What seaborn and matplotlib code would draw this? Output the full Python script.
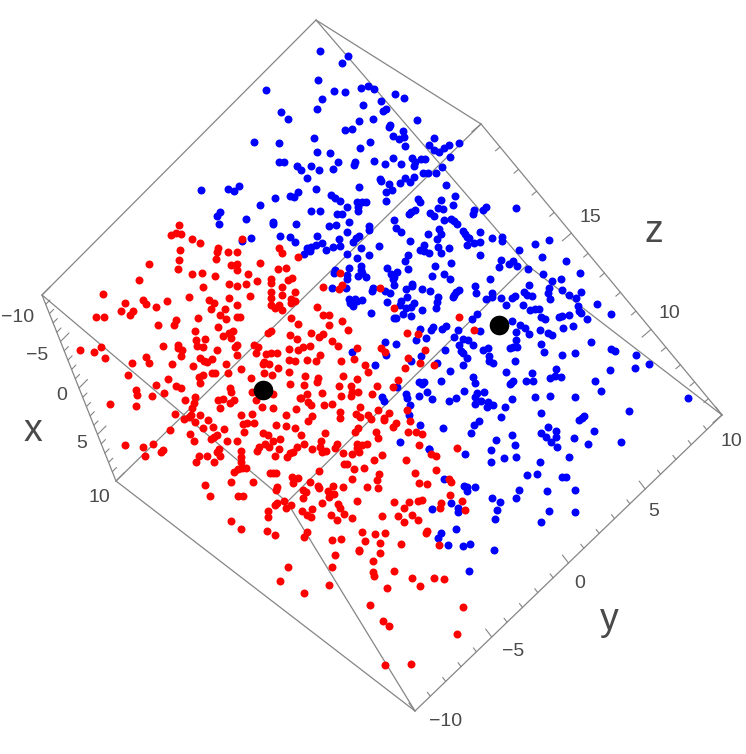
import matplotlib
matplotlib.use("Agg")
import matplotlib.pyplot as plt
import numpy as np
import pandas as pd
import seaborn as sns

# Point readings grouped by the picture region they were read from, at 3x scale.
blue_top = [(390,63),(475,77),(457,99),(384,149),(228,179),(433,184),(464,187),(514,175),(534,168),(553,177),(615,193),(643,204),(395,207),(382,236),(518,224),(572,213),(589,237),(578,244),(272,246),(295,266),(508,274),(550,266),(681,270),(600,285),(598,292),(466,299),(487,298),(639,302),(608,317),(626,326),(642,320),(372,325),(193,336),(267,340),(540,337),(510,354),(646,347),(731,323),(716,344),(732,361),(746,365),(761,353),(778,346),(806,338),(382,365),(420,370),(608,384),(666,384),(693,386),(706,386),(781,381),(267,396),(283,396),(444,395),(496,397),(492,405),(553,393),(586,401),(633,402),(676,396),(672,408),(320,409),(332,420),(363,409),(386,420),(430,417),(757,411),(352,443),(739,428),(698,430),(713,428),(570,447),(572,452),(673,441),(645,445),(661,457),(629,460),(598,463),(607,479),(768,464),(508,472),(379,477),(32,481),(113,477),(133,484),(148,467),(587,487),(324,487),(301,498),(312,502),(254,504),(423,494),(434,503),(450,512),(796,499),(683,508),(689,517),(588,512),(501,517),(515,517),(527,516),(211,524),(503,530),(470,532),(754,509),(790,526),(745,533),(759,538),(503,543),(362,544),(389,542),(90,547),(80,557),(441,553),(456,552),(675,540),(664,545),(657,553),(721,550),(733,557),(168,567),(87,583),(250,575),(249,583),(318,583),(476,576),(417,589),(438,585),(612,571),(762,570),(782,566),(793,574),(802,583),(538,587),(538,601),(618,595),(633,606),(748,597),(752,613),(713,612),(472,605),(183,624),(271,618),(300,622),(315,637),(382,617),(448,626),(506,619),(497,625),(490,636),(741,627),(660,634),(702,644),(743,650),(397,639),(378,645),(364,650),(350,655),(360,662),(343,672),(408,661),(430,651),(450,647),(514,655),(568,649),(690,661),(703,664),(716,670),(753,668),(778,655),(472,673),(502,684),(536,674),(655,675),(157,632)]
blue_middle = [(432,60),(430,72),(458,60),(468,52),(558,53),(451,127),(398,124),(405,131),(412,140),(418,145),(432,158),(450,155),(411,166),(485,144),(517,140),(516,153),(615,163),(657,150),(566,180),(450,194),(636,202),(709,212),(513,211),(507,230),(536,222),(548,212),(561,228),(594,237),(749,250),(640,252),(16,240),(13,248),(57,233),(94,228),(92,240),(51,254),(95,248),(83,258),(108,262),(50,267),(170,233),(183,252),(202,246),(193,262),(188,268),(235,238),(316,229),(362,218),(224,212),(305,259),(343,253),(360,268),(481,267),(667,273),(694,267),(247,282),(245,288),(193,284),(598,284),(656,295),(655,308),(696,299),(436,288),(439,308),(277,296),(301,303),(228,298),(130,294),(125,303),(7,295),(47,295),(164,304),(181,308),(388,301),(378,307),(371,315),(368,322),(323,320),(486,310),(485,322),(468,326),(513,323),(546,324),(555,317),(583,307),(592,315),(606,318),(660,327),(718,314),(739,323),(752,307),(231,320),(212,332),(209,344),(322,337),(172,337),(58,327),(74,328),(81,332),(96,329),(60,340),(70,349),(528,345),(578,346),(800,343),(744,347),(600,360),(616,357),(628,356),(746,362),(753,368),(253,338),(242,351),(228,353),(318,355),(277,361),(122,370),(220,371),(244,378),(440,372),(425,387),(192,384),(197,384),(632,382),(645,388),(688,381),(697,378),(718,374),(771,386),(698,415),(730,407),(545,394),(347,408),(335,416),(310,412),(303,419),(270,417),(385,420),(450,424),(570,405),(585,413),(558,425),(596,432),(631,421),(655,430),(667,436),(287,444),(259,451),(373,440),(398,447),(388,465),(415,450),(430,465),(559,451),(548,470),(561,470),(540,474),(634,461),(784,457),(199,461),(164,456),(67,485),(169,495),(346,481),(458,480),(473,475),(392,484),(400,490),(410,503),(476,497),(642,485),(697,494),(736,489),(273,497),(243,512),(556,514),(478,513),(489,519),(399,524),(320,518),(135,525),(359,543),(529,545),(606,548),(429,562),(678,536),(660,565),(675,558),(693,562)]
blue_right = [(513,71),(514,176),(524,182),(588,194),(626,222),(585,233),(511,240),(464,272),(484,304),(743,323),(405,320),(330,317),(285,322),(217,326),(568,364),(303,368),(432,378),(425,383),(418,389),(462,423),(402,444),(323,411),(349,423),(348,440),(304,429),(319,440),(334,457),(352,470),(443,463),(544,455),(387,502),(300,515),(262,555),(292,553),(365,560),(378,561),(404,600),(322,603),(238,601),(229,625),(326,664),(405,665),(304,695),(170,661),(164,688),(181,637),(157,625),(217,436),(224,466),(167,449),(153,481),(191,505),(227,501),(152,516),(257,273),(278,272),(218,272),(210,283),(213,278),(105,278),(72,303),(131,306),(110,310),(105,320),(48,323),(27,332),(122,334),(104,342),(145,335),(160,345),(142,352),(195,350),(183,380),(118,392),(101,405),(92,428),(8,414),(74,491),(11,567),(72,587),(81,590),(81,604),(104,592),(32,640),(55,654),(55,665),(47,716),(90,761),(69,768),(23,765),(161,781),(3,730)]
blue_lower_mid = [(472,322),(427,352),(431,362),(498,343),(500,355),(511,374),(507,404),(540,436),(480,486),(568,506),(537,305),(547,312),(553,305),(537,349),(562,337),(577,356),(602,303)]
blue_bottom = [(718,27),(726,208),(743,293),(838,393)]

red_left = [(358,16),(333,45),(349,38),(362,43),(395,57),(420,68),(545,57),(360,90),(474,85),(470,97),(505,96),(530,95),(468,117),(358,121),(266,131),(512,135),(530,133),(600,130),(530,150),(355,148),(396,162),(425,158),(465,167),(655,146),(678,145),(565,163),(657,85),(667,98),(715,112),(238,181),(507,191),(532,198),(558,191),(590,184),(430,202),(632,177),(634,190),(666,200),(685,180),(695,175),(129,221),(386,231),(570,227),(633,215),(634,233),(665,225),(704,216),(507,235),(448,240),(461,248),(321,242),(248,241),(257,252),(196,248),(692,237),(694,248),(705,243),(287,262),(530,256),(633,254),(645,265),(658,255),(667,271),(454,267),(494,266),(183,272),(219,274),(210,285),(107,291),(131,291),(480,286),(498,296),(413,293),(530,290),(540,291),(693,295),(347,301),(343,316),(293,316),(474,320),(404,332),(520,332),(507,340),(714,311),(634,332),(625,340),(488,348),(513,355),(691,344),(711,357),(409,359),(435,357),(308,379),(354,374),(354,384),(367,389),(410,378),(429,380),(530,376),(526,380),(583,376),(595,380),(59,390),(102,396),(124,380),(136,413),(472,391),(687,388),(714,390),(587,400),(617,403),(634,400),(652,398),(364,408),(258,410),(421,415),(530,405),(431,423),(441,425),(456,417),(215,429),(266,429),(335,433),(612,427),(609,432),(628,433),(688,421),(705,423),(654,445),(498,433),(400,439),(544,447),(205,465),(505,458),(455,458),(465,458),(417,470),(430,464),(613,459),(637,464),(686,456),(574,475),(324,476),(419,488),(289,495),(348,497),(363,504),(691,492),(228,509),(232,525),(510,505),(514,516),(577,516),(640,523),(313,520),(277,527),(406,532),(376,541),(475,540),(488,538),(523,540),(511,548),(587,541),(721,535),(151,551),(228,559),(401,549),(395,563),(481,563),(607,561),(640,564),(709,567),(345,583),(419,585),(544,585),(575,581),(678,584),(392,585),(373,596),(388,592),(405,605),(444,601),(550,612),(560,610),(581,608),(648,614),(677,618),(705,624),(430,623),(458,622),(491,627),(553,635),(331,630),(391,643),(471,645),(461,650),(452,656),(609,640),(625,645),(402,663),(502,662),(531,662),(660,657),(640,664),(615,672),(628,680),(195,674),(280,672),(248,680),(657,686),(596,680),(590,692),(710,680),(700,695),(477,687),(310,690),(303,695),(255,708),(416,707),(441,707),(470,695),(480,708),(542,692),(542,712),(543,725),(644,708),(690,700),(680,712),(408,726),(461,726)]
red_center = [(230,82),(248,104),(267,104),(268,136),(305,122),(325,151),(275,184),(295,197),(250,162),(236,170),(214,159),(211,199),(190,201),(239,225),(228,243),(202,240),(304,244),(350,205),(341,236),(374,256),(384,277),(423,205),(434,215),(496,265),(503,234),(539,249),(555,210),(501,160),(535,161),(463,85),(421,24),(350,298),(309,289),(233,295),(230,307),(191,315),(196,287),(296,318),(333,319),(335,335),(333,349),(354,336),(302,348),(245,339),(200,343),(184,355),(411,319),(396,342),(460,322),(475,301),(583,255),(205,367),(212,375),(252,376),(276,373),(361,382),(348,401),(301,395),(300,413),(361,410),(384,406),(392,417),(414,391),(433,413),(448,398),(432,420),(217,409),(203,424),(501,389),(510,423),(467,430),(459,442),(355,443),(345,456),(256,460),(184,465),(409,456),(413,475),(505,456),(529,456),(547,463),(536,494),(652,504),(572,521),(588,527),(380,491),(365,494),(350,493),(352,505),(292,492),(285,503),(243,484),(241,500),(245,515),(258,514),(215,507),(193,492),(310,519),(337,521),(358,516),(426,526),(402,539),(497,539),(320,551),(312,551),(341,567),(372,563),(248,22),(297,28),(305,14),(238,572),(525,578),(587,570),(418,583)]
red_upper_right = [(31,250),(388,382),(433,420)]
red_bottom = [(133,97),(145,88),(157,85),(168,83),(240,98),(250,98),(257,98),(306,110),(323,113),(309,128),(560,120),(485,117),(124,127),(190,126),(45,135),(60,169),(143,167),(158,168),(260,140),(257,150),(361,125),(385,137),(388,143),(429,138),(459,142),(532,141),(564,143),(687,128),(712,132),(776,118),(783,126),(338,150),(347,155),(414,154),(432,163),(417,172),(339,173),(780,165),(612,186),(656,187),(684,182),(696,181),(754,190),(815,183),(283,184),(260,188),(254,195),(304,194),(287,203),(397,188),(502,183),(445,192),(451,204),(643,203),(750,204),(824,210),(234,212),(336,212),(365,207),(463,222),(422,225),(352,226),(362,232),(235,231),(440,239),(486,235),(576,229),(623,228),(667,225),(643,245),(684,241),(124,242),(153,266),(351,275),(342,290),(231,273),(254,284),(515,276),(556,282),(586,280),(712,272),(708,279),(427,301),(452,297),(525,304),(571,309),(632,312),(746,316),(508,330),(507,333),(569,340),(435,345),(548,364),(426,382),(295,381),(269,423),(613,394),(550,397),(551,408),(666,413),(733,414),(761,418),(689,438),(590,445),(417,434),(342,459),(541,495),(820,500),(578,543),(598,558),(802,583),(586,674),(663,671)]
centroid_x = [263, 499]
centroid_y = [390, 325]

x_ticks = ["\u221210", "\u22125", "0", "5", "10"]
y_ticks = ["\u221210", "\u22125", "0", "5", "10"]
z_ticks = ["10", "15"]


def screen(points, left, top):
    p = np.asarray(points, float)
    return pd.DataFrame({"sx": left + p[:, 0] / 3, "sy": top + p[:, 1] / 3})


blue = pd.concat([screen(blue_top, 190, 30), screen(blue_middle, 330, 190),
                  screen(blue_right, 440, 290), screen(blue_lower_mid, 240, 280),
                  screen(blue_bottom, 190, 440)])
red = pd.concat([screen(red_left, 60, 220), screen(red_center, 240, 280),
                 screen(red_upper_right, 330, 190), screen(red_bottom, 190, 440)])

sns.set_theme(style="white")
plt.rcParams["font.family"] = ["Liberation Sans", "DejaVu Sans"]
fig = plt.figure(figsize=(7.46, 7.54), dpi=100)
ax = fig.add_axes([0, 0, 1, 1])
ax.set_xlim(0, 746)
ax.set_ylim(754, 0)
ax.axis("off")

A, B, C, D = (316, 20), (481, 124), (722, 415), (527, 265)
E, F, G, I = (42, 295), (116, 481), (415, 711), (287, 502)
edge = "#858585"
for p, q in [(E, A), (A, B), (B, C), (A, D), (D, C), (E, I), (I, G), (I, D), (B, F), (F, G), (E, F), (G, C)]:
    ax.plot([p[0], q[0]], [p[1], q[1]], color=edge, lw=0.9, zorder=1)


def ticks(start, end, count, direction, major, minor, foreshorten=1.0):
    s, e, d = np.array(start, float), np.array(end, float), np.array(direction, float)
    d /= np.hypot(*d)
    for i in range(count):
        u = i / (count - 1)
        t = foreshorten * u / (1 + (foreshorten - 1) * u)
        pos = s + (e - s) * t
        length = major if i % 5 == 0 else minor
        ax.plot([pos[0], pos[0] + d[0] * length], [pos[1], pos[1] + d[1] * length],
                color=edge, lw=0.8, zorder=1)


ticks(E, F, 21, (1, -1), 12, 6)
ticks(G, C, 21, (-10, -13), 10, 5)
ticks(B, C, 16, (-1, 0.85), 12, 6, foreshorten=1.2)

text = "#4a4a4a"
for label, tx, ty in zip(x_ticks, [18, 37, 62, 82, 99], [316, 353, 394, 441, 495]):
    ax.text(tx, ty + 2, label, color=text, fontsize=14, ha="center", va="center")
for label, tx, ty in zip(y_ticks, [446, 513, 580, 654, 731], [720, 650, 581, 510, 439]):
    ax.text(tx, ty + 2, label, color=text, fontsize=14, ha="center", va="center")
for label, tx, ty in zip(z_ticks, [669, 590], [312, 216]):
    ax.text(tx, ty + 2, label, color=text, fontsize=14, ha="center", va="center")
ax.text(33, 431, "x", color=text, fontsize=27, ha="center", va="center")
ax.text(609, 620, "y", color=text, fontsize=27, ha="center", va="center")
ax.text(654, 232, "z", color=text, fontsize=27, ha="center", va="center")

sns.scatterplot(data=red, x="sx", y="sy", color="#ff0000", s=33, linewidth=0, ax=ax, zorder=3)
sns.scatterplot(data=blue, x="sx", y="sy", color="#0000ff", s=33, linewidth=0, ax=ax, zorder=2)
sns.scatterplot(x=centroid_x, y=centroid_y, color="black", s=200, linewidth=0, ax=ax, zorder=4)
ax.set_xlabel("")
ax.set_ylabel("")
fig.savefig("out.png", dpi=100)
